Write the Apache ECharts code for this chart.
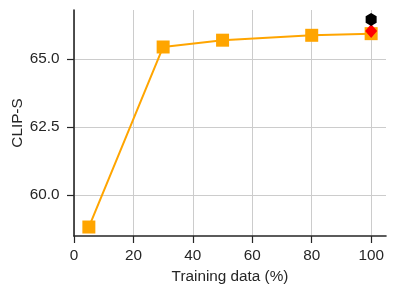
<!DOCTYPE html>
<html>
<head>
<meta charset="utf-8">
<style>
html,body{margin:0;padding:0;background:#fff;}
#main{width:396px;height:296px;}
</style>
<script src="https://cdn.jsdelivr.net/npm/echarts@6/dist/echarts.min.js"></script>
</head>
<body>
<div id="main"></div>
<script>
// Data
const trainingPct = [5, 30, 50, 80, 100];
const clipS = [58.82, 65.44, 65.69, 65.87, 65.93];
const redPoint = [[100, 66.03]];
const blackPoint = [[100, 66.45]];
const xTicks = [0, 20, 40, 60, 80, 100];
const yTicks = [60.0, 62.5, 65.0];

const textColor = '#262626';
const font = 'Liberation Sans, Arial, sans-serif';
const fs = 15.3;
const hexagon = 'path://M0,-10 L8.66,-5 L8.66,5 L0,10 L-8.66,5 L-8.66,-5 Z';

const chart = echarts.init(document.getElementById('main'), null, {renderer: 'canvas'});
chart.setOption({
  animation: false,
  backgroundColor: '#ffffff',
  grid: {left: 74, right: 10, top: 10, bottom: 60, containLabel: false, outerBoundsMode: 'none'},
  xAxis: {
    type: 'value', min: 0, max: 105,
    name: 'Training data (%)', nameLocation: 'middle', nameGap: 33, nameMoveOverlap: false,
    nameTextStyle: {color: textColor, fontSize: fs, fontFamily: font},
    axisLine: {show: true, onZero: false, lineStyle: {color: textColor, width: 1.6}},
    axisTick: {show: true, length: 7, customValues: xTicks, lineStyle: {color: textColor, width: 1.2}},
    axisLabel: {customValues: xTicks, margin: 12, color: textColor, fontSize: fs, fontFamily: font},
    splitLine: {show: true, lineStyle: {color: '#cccccc', width: 1}}
  },
  yAxis: {
    type: 'value', min: 58.49, max: 66.8,
    name: 'CLIP-S', nameLocation: 'middle', nameGap: 49, nameRotate: 90, nameMoveOverlap: false,
    nameTextStyle: {color: textColor, fontSize: fs, fontFamily: font},
    axisLine: {show: true, onZero: false, lineStyle: {color: textColor, width: 1.6}},
    axisTick: {show: true, length: 7, customValues: yTicks, lineStyle: {color: textColor, width: 1.2}},
    axisLabel: {customValues: yTicks, margin: 14.5, color: textColor, fontSize: fs, fontFamily: font,
      formatter: v => Number(v).toFixed(1)},
    splitLine: {show: true, lineStyle: {color: '#cccccc', width: 1}}
  },
  series: [
    {
      type: 'line',
      data: trainingPct.map((x, i) => [x, clipS[i]]),
      symbol: 'rect', symbolSize: 13,
      lineStyle: {color: '#FFA500', width: 2},
      itemStyle: {color: '#FFA500', opacity: 1},
      z: 2
    },
    {
      type: 'scatter', data: redPoint,
      symbol: 'diamond', symbolSize: [12, 14],
      itemStyle: {color: '#FF0000', opacity: 1}, z: 3
    },
    {
      type: 'scatter', data: blackPoint,
      symbol: hexagon, symbolSize: [11, 13],
      itemStyle: {color: '#000000', opacity: 1}, z: 4
    }
  ]
});
</script>
</body>
</html>
